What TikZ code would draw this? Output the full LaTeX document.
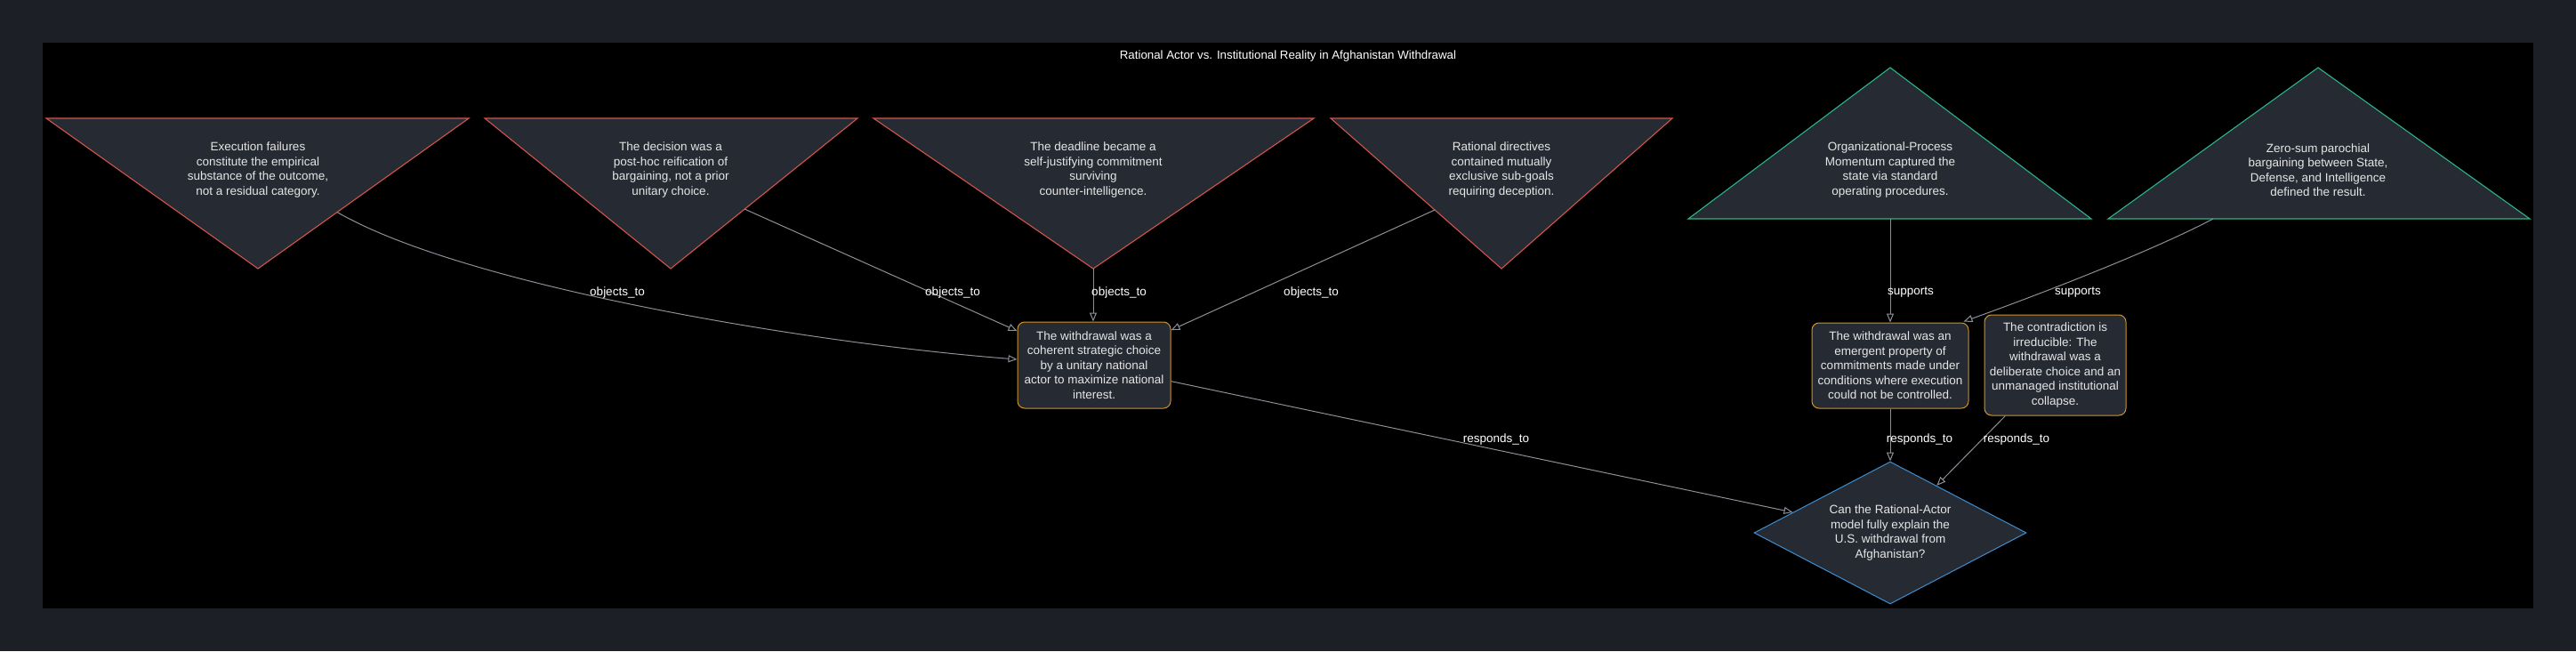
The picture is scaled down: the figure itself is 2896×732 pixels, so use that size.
\documentclass[tikz,border=0pt]{standalone}
\usepackage{fontspec}
\setmainfont{Liberation Sans}
\usetikzlibrary{shapes.geometric,arrows.meta,calc}
\definecolor{outerbg}{HTML}{1C1F26}
\definecolor{nodefill}{HTML}{262A33}
\definecolor{redline}{HTML}{D4544C}
\definecolor{tealline}{HTML}{2BB38A}
\definecolor{orangeline}{HTML}{D4952A}
\definecolor{blueline}{HTML}{3D8FD1}
\definecolor{edgegray}{HTML}{8C9099}
\definecolor{txt}{HTML}{E6E6E6}
\begin{document}
\begin{tikzpicture}[x=1pt,y=-1pt,
  every node/.style={font=\fontsize{13.5}{16.5}\selectfont, text=txt},
  tritext/.style={align=center, inner sep=0pt},
  claimbox/.style={draw=orangeline, fill=nodefill, rounded corners=8pt, line width=1pt, align=center, inner sep=0pt},
  qdiamond/.style={diamond, aspect=1.9, draw=blueline, fill=nodefill, line width=1pt, align=center, inner sep=0pt},
  link/.style={draw=edgegray, line width=1pt, -{Triangle[open, length=10pt, width=8pt]}},
  lbl/.style={font=\fontsize{13.5}{15}\selectfont, text=white, inner sep=0pt},
  redtri/.style={draw=redline, fill=nodefill, line width=1.1pt},
  tealtri/.style={draw=tealline, fill=nodefill, line width=1.1pt},
]
\useasboundingbox (0,0) rectangle (2896,732);
\fill[outerbg] (0,0) rectangle (2896,732);
\fill[black] (48,48) rectangle (2848,684);

\node[font=\fontsize{13.3}{15}\selectfont, text=white] (title) at (1448,63) {Rational Actor vs. Institutional Reality in Afghanistan Withdrawal};

% objecting (inverted) triangles
\draw[redtri] (52,133) -- (527,133) -- (290,302) -- cycle;
\draw[redtri] (545,133) -- (964,133) -- (754,302) -- cycle;
\draw[redtri] (982,133) -- (1477,133) -- (1229,302) -- cycle;
\draw[redtri] (1496,133) -- (1880,133) -- (1688,302) -- cycle;
% supporting (upright) triangles
\draw[tealtri] (2125,76) -- (2351,246) -- (1898,246) -- cycle;
\draw[tealtri] (2606,76) -- (2844,246) -- (2370,246) -- cycle;

\node[tritext] (t1) at (290,191) {Execution failures\\constitute the empirical\\substance of the outcome,\\not a residual category.};
\node[tritext] (t2) at (754,191) {The decision was a\\post-hoc reification of\\bargaining, not a prior\\unitary choice.};
\node[tritext] (t3) at (1229,191) {The deadline became a\\self-justifying commitment\\surviving\\counter-intelligence.};
\node[tritext] (t4) at (1688,191) {Rational directives\\contained mutually\\exclusive sub-goals\\requiring deception.};
\node[tritext] (t5) at (2125,191) {Organizational-Process\\Momentum captured the\\state via standard\\operating procedures.};
\node[tritext] (t6) at (2606,191) {Zero-sum parochial\\bargaining between State,\\Defense, and Intelligence\\defined the result.};

\coordinate (t1s) at (379,238.5);
\coordinate (t2s) at (837,235);
\coordinate (t3s) at (1229,302);
\coordinate (t4s) at (1613,236);
\coordinate (t5s) at (2125,246);
\coordinate (t6s) at (2488,246);

\node[claimbox, minimum width=172pt, minimum height=97pt] (C) at (1230,410.5) {The withdrawal was a\\coherent strategic choice\\by a unitary national\\actor to maximize national\\interest.};
\node[claimbox, minimum width=176pt, minimum height=96pt] (E) at (2125,411) {The withdrawal was an\\emergent property of\\commitments made under\\conditions where execution\\could not be controlled.};
\node[claimbox, minimum width=159pt, minimum height=113pt] (F) at (2310.5,410.5) {The contradiction is\\irreducible: The\\withdrawal was a\\deliberate choice and an\\unmanaged institutional\\collapse.};
\node[qdiamond, minimum width=306pt, minimum height=160pt] (D) at (2125,599) {Can the Rational-Actor\\model fully explain the\\U.S. withdrawal from\\Afghanistan?};

\coordinate (cin) at ($(C.west)+(0,-6.5)$);
\coordinate (ein) at ($(E.north east)+(-6,-1)$);

\draw[link] (t1s) .. controls (520,320) and (900,385) .. (cin);
\draw[link] (t2s) -- (C);
\draw[link] (t3s) -- (t3s |- C.north);
\draw[link] (t4s) -- (C);
\draw[link] (t5s) -- (E.north);
\draw[link] (t6s) .. controls (2420,282) and (2290,332) .. (ein);
\draw[link] (C) -- (D);
\draw[link] (E.south) -- (D.north);
\draw[link] (F) -- (D);

\node[lbl] (l1) at (694,329) {objects\_to};
\node[lbl] (l2) at (1071,329) {objects\_to};
\node[lbl] (l3) at (1258,329) {objects\_to};
\node[lbl] (l4) at (1474,329) {objects\_to};
\node[lbl] (l5) at (2148,329) {supports};
\node[lbl] (l6) at (2336,329) {supports};
\node[lbl] (l7) at (1682,494) {responds\_to};
\node[lbl] (l8) at (2158,494) {responds\_to};
\node[lbl] (l9) at (2267,494) {responds\_to};
\end{tikzpicture}
\end{document}
